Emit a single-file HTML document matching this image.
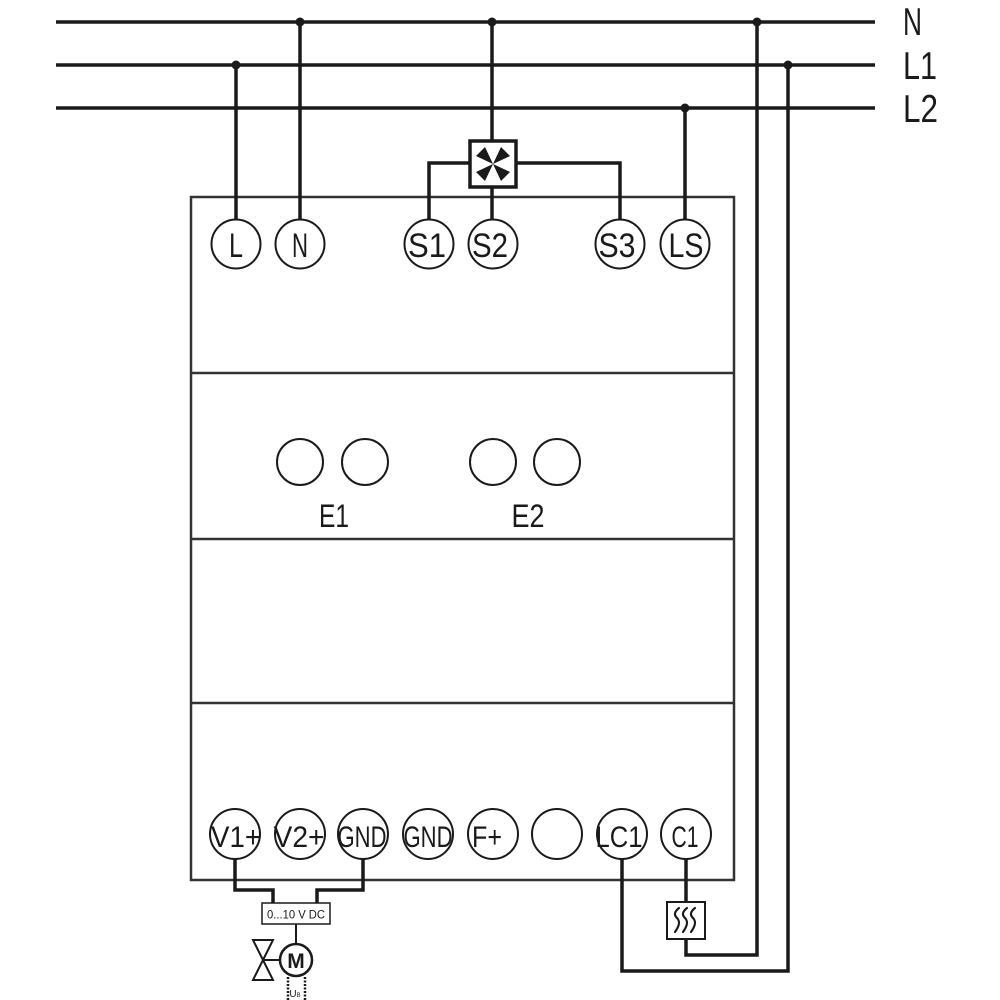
<!DOCTYPE html>
<html>
<head>
<meta charset="utf-8">
<style>
  html,body{margin:0;padding:0;background:#fff;}
  svg{display:block;}
  text{font-family:"Liberation Sans Narrow","Liberation Sans",sans-serif;fill:#1a1a1a;}
</style>
</head>
<body>
<svg width="1000" height="1000" viewBox="0 0 1000 1000" xmlns="http://www.w3.org/2000/svg">
  <!-- Device box -->
  <g fill="none" stroke="#333" stroke-width="2.5">
    <rect x="191" y="197" width="543" height="683"/>
    <line x1="191" y1="373" x2="734" y2="373"/>
    <line x1="191" y1="539" x2="734" y2="539"/>
    <line x1="191" y1="703" x2="734" y2="703"/>
  </g>

  <!-- Wires -->
  <g fill="none" stroke="#1a1a1a" stroke-width="3.5" stroke-linejoin="miter">
    <line x1="56" y1="22" x2="875" y2="22"/>
    <line x1="56" y1="65" x2="875" y2="65"/>
    <line x1="56" y1="108" x2="875" y2="108"/>
    <path d="M236,65 V220"/>
    <path d="M300,22 V220"/>
    <path d="M492,22 V141"/>
    <path d="M429,220 V163 H470"/>
    <path d="M620,220 V163 H516"/>
    <path d="M492,187 V220"/>
    <path d="M685,108 V220"/>
    <path d="M757,22 V955 H686 V938"/>
    <path d="M788,65 V971 H622 V859"/>
    <path d="M686,859 V902"/>
    <path d="M235,859 V890 H273 V903"/>
    <path d="M363,859 V890 H317 V903"/>
  </g>

  <!-- Junction dots -->
  <g fill="#1a1a1a">
    <circle cx="236" cy="65" r="4.5"/>
    <circle cx="300" cy="22" r="4.5"/>
    <circle cx="492" cy="22" r="4.5"/>
    <circle cx="685" cy="108" r="4.5"/>
    <circle cx="757" cy="22" r="4.5"/>
    <circle cx="788" cy="65" r="4.5"/>
  </g>

  <!-- Line labels -->
  <text x="903" y="35" font-size="39" textLength="19" lengthAdjust="spacingAndGlyphs">N</text>
  <text x="903" y="79" font-size="39" textLength="34" lengthAdjust="spacingAndGlyphs">L1</text>
  <text x="903" y="122" font-size="39" textLength="35" lengthAdjust="spacingAndGlyphs">L2</text>

  <!-- Fan box -->
  <rect x="470" y="141" width="46" height="46" fill="#fff" stroke="#1a1a1a" stroke-width="3.5"/>
  <g fill="#1a1a1a" transform="translate(493,164)">
    <polygon points="0,0 -17,-8 -8,-17"/>
    <polygon points="0,0 17,-8 8,-17"/>
    <polygon points="0,0 -17,8 -8,17"/>
    <polygon points="0,0 17,8 8,17"/>
  </g>

  <!-- Top terminals -->
  <g fill="#fff" stroke="#1a1a1a" stroke-width="2">
    <circle cx="236" cy="244" r="24.5"/>
    <circle cx="300" cy="244" r="24.5"/>
    <circle cx="429" cy="244" r="24.5"/>
    <circle cx="493" cy="244" r="24.5"/>
    <circle cx="620" cy="244" r="24.5"/>
    <circle cx="685" cy="244" r="24.5"/>
  </g>
  <g font-size="34" text-anchor="middle">
    <text x="236" y="257" textLength="14" lengthAdjust="spacingAndGlyphs">L</text>
    <text x="300" y="257" textLength="16" lengthAdjust="spacingAndGlyphs">N</text>
    <text x="427" y="257" textLength="38" lengthAdjust="spacingAndGlyphs">S1</text>
    <text x="490" y="257" textLength="36" lengthAdjust="spacingAndGlyphs">S2</text>
    <text x="617" y="257" textLength="37" lengthAdjust="spacingAndGlyphs">S3</text>
    <text x="686" y="257" textLength="35" lengthAdjust="spacingAndGlyphs">LS</text>
  </g>

  <!-- Middle E1/E2 -->
  <g fill="none" stroke="#1a1a1a" stroke-width="2">
    <circle cx="300" cy="462" r="23"/>
    <circle cx="365" cy="462" r="23"/>
    <circle cx="493" cy="462" r="23"/>
    <circle cx="557" cy="462" r="23"/>
  </g>
  <g font-size="32" text-anchor="middle">
    <text x="334" y="527" textLength="30" lengthAdjust="spacingAndGlyphs">E1</text>
    <text x="528" y="527" textLength="33" lengthAdjust="spacingAndGlyphs">E2</text>
  </g>

  <!-- Bottom terminals -->
  <g fill="#fff" stroke="#1a1a1a" stroke-width="2">
    <circle cx="235" cy="834" r="25"/>
    <circle cx="300" cy="834" r="25"/>
    <circle cx="363" cy="834" r="25"/>
    <circle cx="428" cy="834" r="25"/>
    <circle cx="493" cy="834" r="25"/>
    <circle cx="557" cy="834" r="25"/>
    <circle cx="622" cy="834" r="25"/>
    <circle cx="686" cy="834" r="25"/>
  </g>
  <g font-size="30" text-anchor="middle">
    <text x="236" y="847" textLength="50" lengthAdjust="spacingAndGlyphs">V1+</text>
    <text x="299" y="847" textLength="51" lengthAdjust="spacingAndGlyphs">V2+</text>
    <text x="362" y="847" textLength="49" lengthAdjust="spacingAndGlyphs">GND</text>
    <text x="428" y="847" textLength="49" lengthAdjust="spacingAndGlyphs">GND</text>
    <text x="487" y="847" textLength="30" lengthAdjust="spacingAndGlyphs">F+</text>
    <text x="619" y="847" textLength="47" lengthAdjust="spacingAndGlyphs">LC1</text>
    <text x="685" y="847" textLength="27" lengthAdjust="spacingAndGlyphs">C1</text>
  </g>

  <!-- 0...10V DC box and motor/valve -->
  <rect x="262" y="903" width="68" height="21" fill="#fff" stroke="#1a1a1a" stroke-width="1.5"/>
  <text x="296" y="918.5" font-size="12" text-anchor="middle" textLength="58" lengthAdjust="spacingAndGlyphs">0...10 V DC</text>
  <line x1="296" y1="924" x2="296" y2="944" stroke="#1a1a1a" stroke-width="2"/>
  <path d="M253,940 H273 L253,980 H273 Z" fill="none" stroke="#1a1a1a" stroke-width="2" stroke-linejoin="miter"/>
  <line x1="263" y1="960" x2="280" y2="960" stroke="#1a1a1a" stroke-width="2"/>
  <circle cx="296" cy="960" r="16" fill="#fff" stroke="#1a1a1a" stroke-width="2.5"/>
  <text x="296" y="968" font-size="21" font-weight="bold" text-anchor="middle" style="font-family:'Liberation Sans',sans-serif">M</text>
  <g stroke="#1a1a1a" stroke-width="2.5" stroke-dasharray="2,1.5">
    <line x1="288" y1="977" x2="288" y2="1000"/>
    <line x1="305" y1="977" x2="305" y2="1000"/>
  </g>
  <text x="295" y="997" font-size="10" text-anchor="middle" style="font-family:'Liberation Sans',sans-serif">U<tspan font-size="6">B</tspan></text>

  <!-- Heater box -->
  <rect x="667" y="902" width="38" height="37" fill="#fff" stroke="#1a1a1a" stroke-width="2"/>
  <g fill="none" stroke="#1a1a1a" stroke-width="2.2" stroke-linecap="round">
    <path d="M679,908 C674,912 674,915 677,918 C680,921 680,925 675,932"/>
    <path d="M687,908 C682,912 682,915 685,918 C688,921 688,925 683,932"/>
    <path d="M695,908 C690,912 690,915 693,918 C696,921 696,925 691,932"/>
  </g>
</svg>
</body>
</html>
